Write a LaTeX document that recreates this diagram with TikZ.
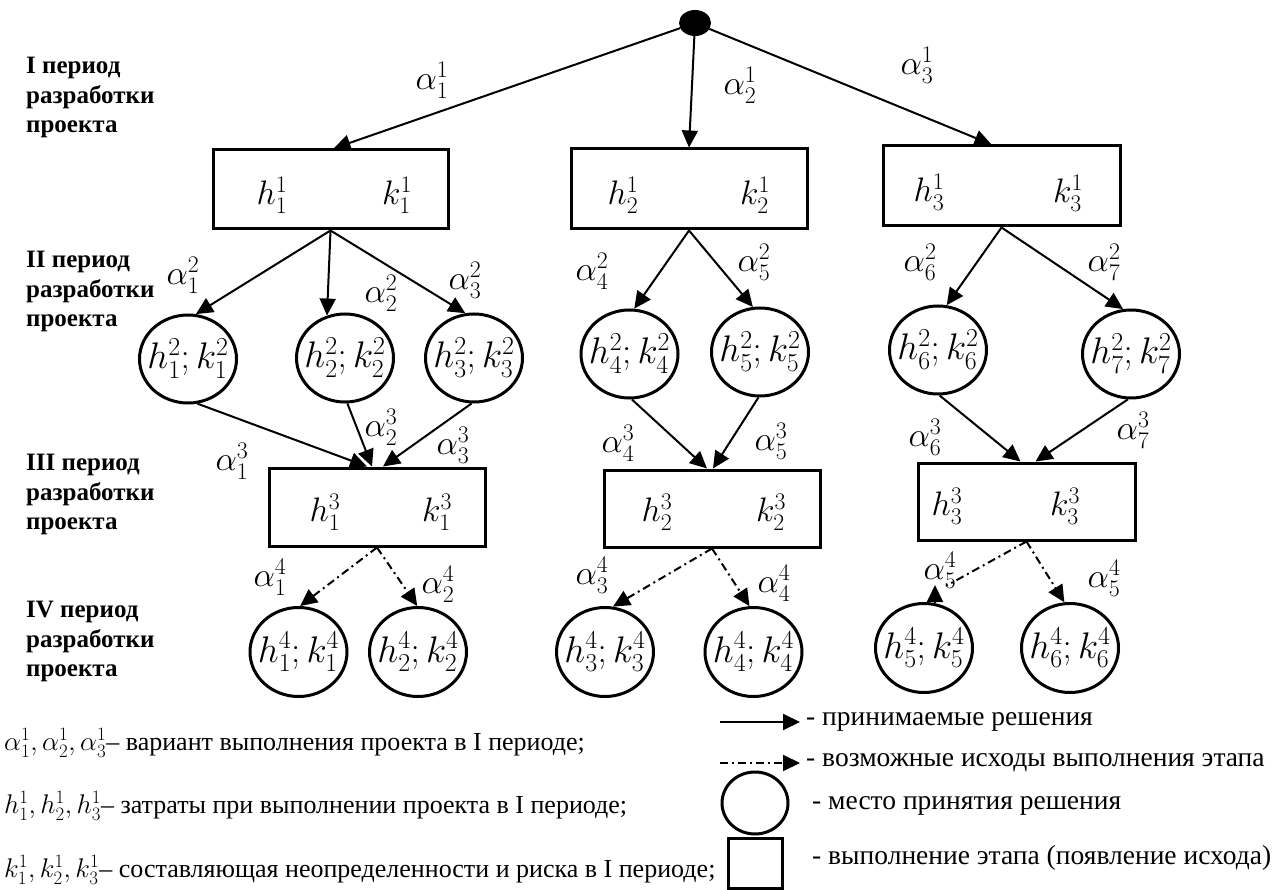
\RequirePackage{fix-cm}
\documentclass[tikz,border=0pt]{standalone}
\usepackage{fontspec}
\setmainfont{Liberation Serif}
\usetikzlibrary{shapes.geometric,arrows.meta,calc}

% text of a decision place: h and k with the given index and period,
% set in a zero-width box so the ellipse keeps its own size
\newcommand\hkpair[2]{\makebox[0pt][c]{$h_{#1}^{#2};k_{#1}^{#2}$}}

\tikzset{
  stage/.style={draw, line width=3pt, inner sep=0pt},
  place/.style={ellipse, draw, line width=3pt, minimum width=97pt,
    minimum height=88pt, inner sep=0pt, text height=22pt, text depth=2pt,
    font=\fontsize{37}{42}\selectfont},
  mathlbl/.style={inner sep=0pt, font=\fontsize{34}{40}\selectfont},
  decision/.style={-{Triangle[length=17pt,width=16pt]}, line width=2pt},
  outcome/.style={decision, dash pattern=on 8pt off 4pt on 2pt off 4pt},
  period/.style={anchor=north west, align=left, inner sep=0pt,
    font=\bfseries\fontsize{25}{29.5}\selectfont},
  legendL/.style={anchor=west, inner sep=0pt, font=\fontsize{26}{30}\selectfont},
  legendR/.style={anchor=west, inner sep=0pt, font=\fontsize{27.5}{32}\selectfont},
}

\begin{document}
\begin{tikzpicture}[x=1pt, y=-1pt]
\useasboundingbox (0,0) rectangle (1277,890);

% period captions
\node[period] (p1) at (26,57)  {I период\\разработки\\проекта};
\node[period] (p2) at (26,251) {II период\\разработки\\проекта};
\node[period] (p3) at (26,454) {III период\\разработки\\проекта};
\node[period] (p4) at (26,601) {IV период\\разработки\\проекта};

% root
\node[ellipse, fill=black, minimum width=32pt, minimum height=26pt, inner sep=0pt] (root) at (695,23) {};

% first period stages
\node[stage, minimum width=235pt, minimum height=79pt] (B1) at (330.5,189.5) {};
\node[stage, minimum width=236pt, minimum height=80pt] (B2) at (689,189) {};
\node[stage, minimum width=237pt, minimum height=80pt] (B3) at (1001.5,186) {};
\node[mathlbl] (hB1) at (272,195) {$h_1^1$};
\node[mathlbl] (kB1) at (397,195) {$k_1^1$};
\node[mathlbl] (hB2) at (623,195) {$h_2^1$};
\node[mathlbl] (kB2) at (755,195) {$k_2^1$};
\node[mathlbl] (hB3) at (929,192) {$h_3^1$};
\node[mathlbl] (kB3) at (1068,193) {$k_3^1$};

% second period decision places
\node[place] (C1) at (188,359)   {\hkpair{1}{2}};
\node[place] (C2) at (345,358)   {\hkpair{2}{2}};
\node[place] (C3) at (474,358)   {\hkpair{3}{2}};
\node[place] (C4) at (629.5,354) {\hkpair{4}{2}};
\node[place] (C5) at (760,352)   {\hkpair{5}{2}};
\node[place] (C6) at (938,350)   {\hkpair{6}{2}};
\node[place] (C7) at (1131,354)  {\hkpair{7}{2}};

% third period stages
\node[stage, minimum width=216pt, minimum height=78pt] (D1) at (377,507) {};
\node[stage, minimum width=216pt, minimum height=77pt] (D2) at (712,508.5) {};
\node[stage, minimum width=217pt, minimum height=77pt] (D3) at (1026.5,501.5) {};
\node[mathlbl] (hD1) at (325,512) {$h_1^3$};
\node[mathlbl] (kD1) at (437,512) {$k_1^3$};
\node[mathlbl] (hD2) at (657,512) {$h_2^3$};
\node[mathlbl] (kD2) at (771,512) {$k_2^3$};
\node[mathlbl] (hD3) at (947,506) {$h_3^3$};
\node[mathlbl] (kD3) at (1065,506) {$k_3^3$};

% fourth period decision places
\node[place, minimum height=89pt] (E1) at (298.5,652) {\hkpair{1}{4}};
\node[place, minimum height=89pt] (E2) at (418,652)   {\hkpair{2}{4}};
\node[place, minimum height=89pt] (E3) at (605,652)   {\hkpair{3}{4}};
\node[place, minimum height=89pt] (E4) at (753.5,652) {\hkpair{4}{4}};
\node[place, minimum height=89pt] (E5) at (924,648)   {\hkpair{5}{4}};
\node[place, minimum height=89pt] (E6) at (1070,648)  {\hkpair{6}{4}};

% decisions of the first period
\draw[decision] (root) -- ([xshift=3pt]B1.north);
\draw[decision] (root) -- (B2.north);
\draw[decision] (root) -- ([xshift=-10pt]B3.north);

% decisions of the second period
\draw[decision] (B1.south) -- (C1.80);
\draw[decision] (B1.south) -- (C2.113);
\draw[decision] (B1.south) -- (C3.101);
\draw[decision] (B2.south) -- (C4.84);
\draw[decision] (B2.south) -- (C5.99);
\draw[decision] (B3.south) -- (C6.79);
\draw[decision] (B3.south) -- (C7.100);

% decisions of the third period
\draw[decision] (C1.282) -- ([xshift=-10pt]D1.north);
\draw[decision] (C2.273) -- ([xshift=-5pt]D1.north);
\draw[decision] (C3.267) -- ([xshift=6pt]D1.north);
\draw[decision] (C4.273) -- ([xshift=-5pt]D2.north);
\draw[decision] (C5.268) -- ([xshift=1pt]D2.north);
\draw[decision] (C6.272) -- ([xshift=-6pt]D3.north);
\draw[decision] (C7.266) -- ([xshift=9pt]D3.north);

% possible outcomes of the fourth period
\draw[outcome] (D1.south) -- (E1.88);
\draw[outcome] (D1.south) -- (E2.91);
\draw[outcome] (D2.south) -- (E3.80);
\draw[outcome] (D2.south) -- (E4.95);
\draw[outcome, -] (D3.south) -- ($(E5.north)+(22,-16)$);
\draw[decision] ($(E5.north)+(11,0)$) -- ($(E5.north)+(11,-17)$);
\draw[outcome] (D3.south) -- (E6.97);

% branch labels
\node[mathlbl] (a11) at (432,80)  {$\alpha_1^1$};
\node[mathlbl] (a21) at (740,85)  {$\alpha_2^1$};
\node[mathlbl] (a31) at (917,65)  {$\alpha_3^1$};
\node[mathlbl] (a12) at (183,275) {$\alpha_1^2$};
\node[mathlbl] (a22) at (381,293) {$\alpha_2^2$};
\node[mathlbl] (a32) at (465,280) {$\alpha_3^2$};
\node[mathlbl] (a42) at (592,271) {$\alpha_4^2$};
\node[mathlbl] (a52) at (754,262) {$\alpha_5^2$};
\node[mathlbl] (a62) at (920,262) {$\alpha_6^2$};
\node[mathlbl] (a72) at (1104,262) {$\alpha_7^2$};
\node[mathlbl] (a13) at (232,461) {$\alpha_1^3$};
\node[mathlbl] (a23) at (381,427) {$\alpha_2^3$};
\node[mathlbl] (a33) at (453,445) {$\alpha_3^3$};
\node[mathlbl] (a43) at (618,443) {$\alpha_4^3$};
\node[mathlbl] (a53) at (771,441) {$\alpha_5^3$};
\node[mathlbl] (a63) at (925,437) {$\alpha_6^3$};
\node[mathlbl] (a73) at (1133,430) {$\alpha_7^3$};
\node[mathlbl] (a14) at (270,577) {$\alpha_1^4$};
\node[mathlbl] (a24) at (438,584) {$\alpha_2^4$};
\node[mathlbl] (a34) at (592,575) {$\alpha_3^4$};
\node[mathlbl] (a44) at (774,583) {$\alpha_4^4$};
\node[mathlbl] (a54) at (940,570) {$\alpha_5^4$};
\node[mathlbl] (a64) at (1104,578) {$\alpha_5^4$};

% legend, left column
\node[legendL] (n1) at (4,743) {{\fontsize{27}{30}\selectfont$\alpha_1^1, \alpha_2^1, \alpha_3^1$}– вариант выполнения проекта в I периоде;};
\node[legendL] (n2) at (4,806) {{\fontsize{27}{30}\selectfont$h_1^1, h_2^1, h_3^1$}– затраты при выполнении проекта в I периоде;};
\node[legendL] (n3) at (4,870) {{\fontsize{27}{30}\selectfont$k_1^1, k_2^1, k_3^1$}– составляющая неопределенности и риска в I периоде;};

% legend, right column
\coordinate (s1) at (720,722);
\coordinate (e1) at (800,722);
\draw[decision] (s1) -- (e1);
\node[legendR] (t1) at (806,722) {- принимаемые решения};
\coordinate (s2) at (720,763);
\coordinate (e2) at (800,763);
\draw[outcome] (s2) -- (e2);
\node[legendR] (t2) at (806,763) {- возможные исходы выполнения этапа};
\node[ellipse, draw, line width=3pt, minimum width=66pt, minimum height=62pt, inner sep=0pt] (LE) at (755,803) {};
\node[legendR] (t3) at (812,806) {- место принятия решения};
\node[stage, minimum width=54pt, minimum height=50pt] (LQ) at (755,863) {};
\node[legendR] (t4) at (812,858) {- выполнение этапа (появление исхода)};
\end{tikzpicture}
\end{document}
